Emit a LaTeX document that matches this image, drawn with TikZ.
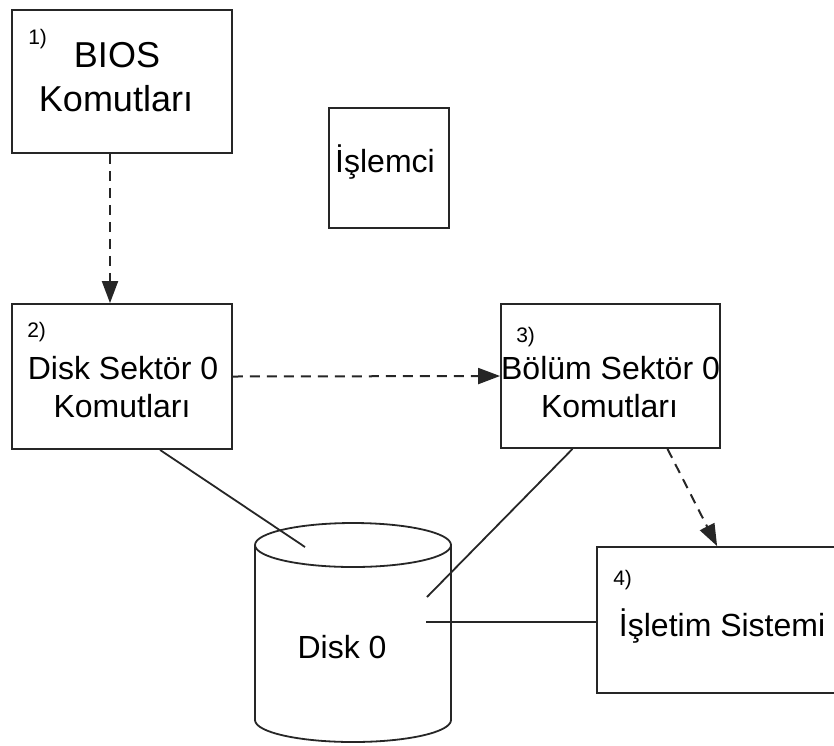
\documentclass[tikz,border=0pt]{standalone}
\usepackage{fontspec}
\setmainfont{Liberation Sans}
\usetikzlibrary{arrows.meta,calc}

\definecolor{ink}{HTML}{262626}

\tikzset{
  stepbox/.style={draw=ink, line width=1.8pt, rectangle, inner sep=0pt},
  boxtext/.style={inner sep=0pt, anchor=base, text=black, font=\fontsize{32}{38}\selectfont},
  numlabel/.style={inner sep=0pt, anchor=north west, font=\fontsize{21}{24}\selectfont},
  flow/.style={draw=ink, line width=2pt, dash pattern=on 10pt off 7pt,
    -{Triangle[length=22pt,width=16pt]}},
  link/.style={draw=ink, line width=1.8pt},
}

\begin{document}
\begin{tikzpicture}[x=1pt,y=-1pt]
  \useasboundingbox (0,0) rectangle (834,745);
  \clip (0,0) rectangle (834,745);

  % 1) BIOS
  \node[stepbox, minimum width=220pt, minimum height=143pt] (b1) at (122,81.5) {};
  \node[numlabel] (n1) at ([shift={(17pt,-20pt)}]b1.north west) {1)};
  \node[boxtext, font=\fontsize{36}{44}\selectfont] (t1a) at ($(b1.north)+(-5,58)$) {BIOS};
  \node[boxtext, font=\fontsize{36}{44}\selectfont] (t1b) at ($(b1.north)+(-6,102)$) {Komutları};

  % processor
  \node[stepbox, minimum width=120pt, minimum height=120pt] (cpu) at (389,168) {};
  \node[boxtext] (tcpu) at ($(cpu.north)+(-4,65)$) {İşlemci};

  % 2) disk sector 0
  \node[stepbox, minimum width=220pt, minimum height=145pt] (b2) at (122,376.5) {};
  \node[numlabel] (n2) at ([shift={(16pt,-19pt)}]b2.north west) {2)};
  \node[boxtext] (t2a) at ($(b2.north)+(1,76)$) {Disk Sektör 0};
  \node[boxtext] (t2b) at ($(b2.north)+(0,114)$) {Komutları};

  % 3) partition sector 0
  \node[stepbox, minimum width=219pt, minimum height=144pt] (b3) at (610.5,376) {};
  \node[numlabel] (n3) at ([shift={(16pt,-24pt)}]b3.north west) {3)};
  \node[boxtext] (t3a) at ($(b3.north)+(0,76)$) {Bölüm Sektör 0};
  \node[boxtext] (t3b) at ($(b3.north)+(-1,114)$) {Komutları};

  % 4) operating system, box runs past the right edge
  \node[stepbox, minimum width=260pt, minimum height=146pt] (b4) at (727,620) {};
  \node[numlabel] (n4) at ([shift={(17pt,-24pt)}]b4.north west) {4)};
  \node[boxtext] (t4) at ($(b4.north west)+(126,90)$) {İşletim Sistemi};

  % disk cylinder
  \filldraw[draw=ink, fill=white, line width=1.8pt]
    (255,545) -- (255,720) arc[start angle=180, end angle=360, x radius=98pt, y radius=22pt]
    -- (451,545);
  \draw[ink, line width=1.8pt] (353,545) ellipse [x radius=98pt, y radius=22pt];
  \node[boxtext] (disk) at (342,658) {Disk 0};
  \coordinate (d1) at (305,547);
  \coordinate (d2) at (427,597);
  \coordinate (d3) at (426,622);

  % control flow
  \draw[flow] ([xshift=-12pt]b1.south) -- ([xshift=-12pt]b2.north);
  \draw[flow] (b2.east) -- (b3.west);
  \draw[flow] ([xshift=57pt]b3.south) -- ([xshift=121pt]b4.north west);

  % disk links
  \draw[link] ([xshift=38pt]b2.south) -- (d1);
  \draw[link] ([xshift=-38pt]b3.south) -- (d2);
  \draw[link] (d3) -- (d3 -| b4.west);
\end{tikzpicture}
\end{document}
